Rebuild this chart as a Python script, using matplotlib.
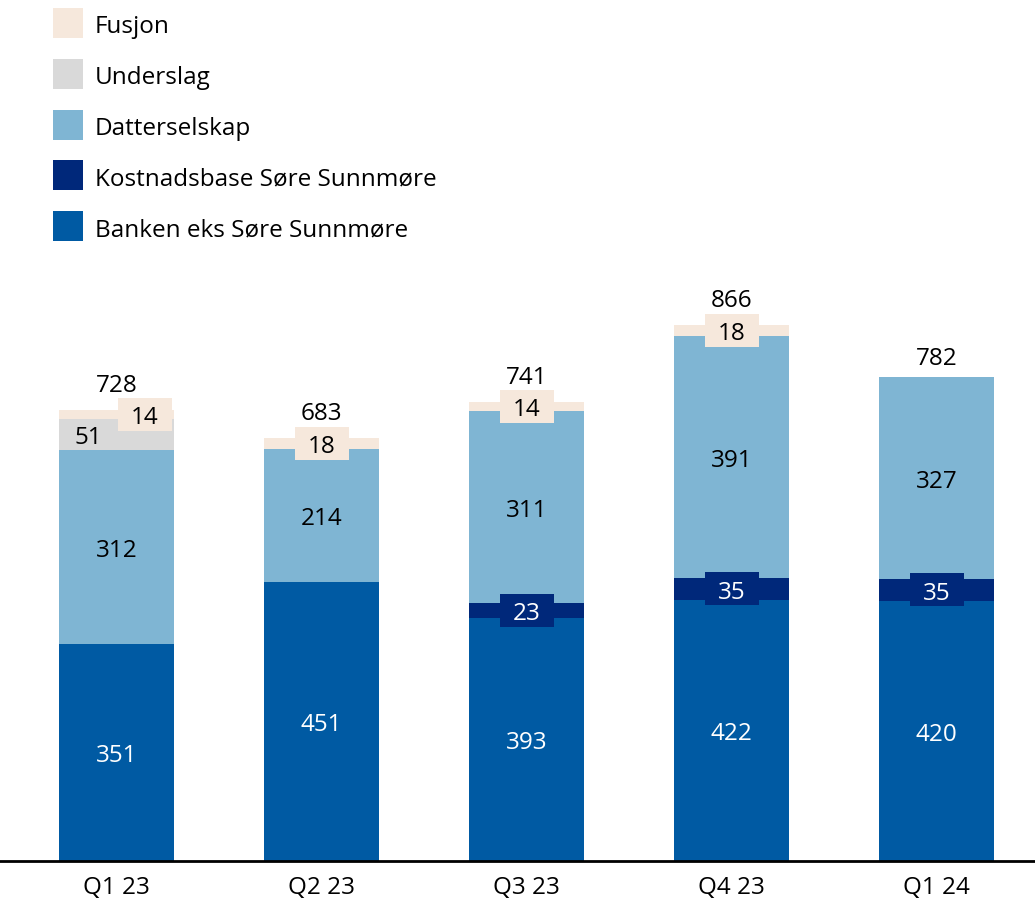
import matplotlib
matplotlib.use("Agg")
import matplotlib.pyplot as plt
from matplotlib.patches import Rectangle
import numpy as np

plt.rcParams['font.family'] = ['Open Sans', 'DejaVu Sans']

quarters = ['Q1 23', 'Q2 23', 'Q3 23', 'Q4 23', 'Q1 24']
banken = [351, 451, 393, 422, 420]
kostnadsbase = [0, 0, 23, 35, 35]
datterselskap = [312, 214, 311, 391, 327]
underslag = [51, 0, 0, 0, 0]
fusjon = [14, 18, 14, 18, 0]
totals = [728, 683, 741, 866, 782]

names = ['Banken eks Søre Sunnmøre', 'Kostnadsbase Søre Sunnmøre',
         'Datterselskap', 'Underslag', 'Fusjon']
colors = ['#005AA3', '#00287A', '#7FB5D3', '#D9D9D9', '#F6E8DC']
txt_colors = ['white', 'white', 'black', 'black', 'black']
series = [banken, kostnadsbase, datterselskap, underslag, fusjon]
boxed = ['Kostnadsbase Søre Sunnmøre', 'Fusjon']

W, H = 1035, 904
fig = plt.figure(figsize=(W / 100, H / 100), dpi=100)
ax = fig.add_axes([0, 42 / H, 1, 862 / H])

px_per_unit = 0.6195
spacing = 205
x = np.arange(len(quarters))
ax.set_xlim(-116.5 / spacing, (W - 116.5) / spacing)
ax.set_ylim(0, 862 / px_per_unit)
bw = 115 / spacing
box_w = 54 / spacing
box_h = 33 / px_per_unit
fs = 17.5

bottom = np.zeros(len(quarters))
for vals, name, col, tc in zip(series, names, colors, txt_colors):
    vals = np.array(vals, dtype=float)
    ax.bar(x, vals, bw, bottom=bottom, color=col, linewidth=0)
    for i, v in enumerate(vals):
        if v == 0:
            continue
        yc = bottom[i] + v / 2
        if name in boxed:
            # small segment: label in a box of the segment colour
            xc = x[i] + (28.5 / spacing if (i == 0 and name == 'Fusjon') else 0)
            ax.add_patch(Rectangle((xc - box_w / 2, yc - box_h / 2), box_w, box_h,
                                   facecolor=col, edgecolor='none', zorder=3))
            ax.text(xc, yc, str(int(v)), ha='center', va='center_baseline',
                    color=tc, fontsize=fs, zorder=4)
        elif name == 'Underslag':
            ax.text(x[i] - 28.5 / spacing, yc, str(int(v)), ha='center',
                    va='center_baseline', color=tc, fontsize=fs, zorder=4)
        else:
            ax.text(x[i], yc, str(int(v)), ha='center', va='center_baseline',
                    color=tc, fontsize=fs, zorder=4)
    bottom += vals

for i, t in enumerate(totals):
    off = 28 if fusjon[i] > 0 else 22
    ax.annotate(str(t), (x[i], t), xytext=(0, off), textcoords='offset pixels',
                ha='center', va='center_baseline', fontsize=fs, color='black')

for s in ['top', 'right', 'left']:
    ax.spines[s].set_visible(False)
ax.spines['bottom'].set_linewidth(2)
ax.spines['bottom'].set_color('black')
ax.set_yticks([])
ax.set_xticks(x)
ax.set_xticklabels(quarters, fontsize=fs)
ax.tick_params(axis='x', length=0, pad=10)

# legend, top-left
leg_names = names[::-1]
leg_colors = colors[::-1]
for k, (n, c) in enumerate(zip(leg_names, leg_colors)):
    top = 9 + k * 50.8
    fig.patches.append(Rectangle((53 / W, 1 - (top + 30) / H), 30 / W, 30 / H,
                                 transform=fig.transFigure, facecolor=c,
                                 edgecolor='none'))
    fig.text(95 / W, 1 - (top + 15) / H, n, ha='left', va='center_baseline',
             fontsize=17.5, color='black')

fig.savefig('out.png', dpi=100)
